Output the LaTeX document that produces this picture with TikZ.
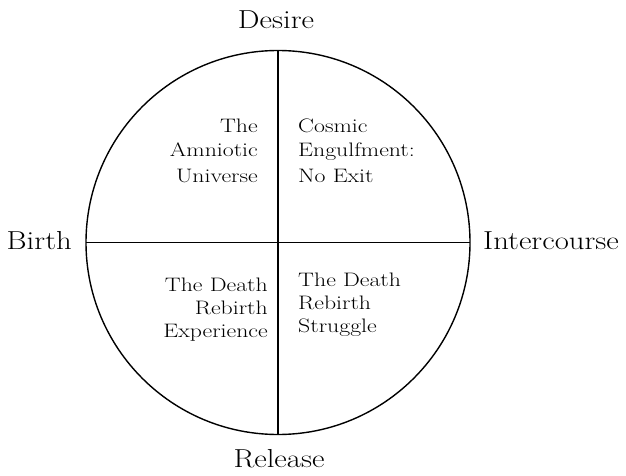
\documentclass[tikz,border=0pt]{standalone}
\usepackage{fontspec}
\setmainfont{Latin Modern Roman}[FakeStretch=1.18]
\newfontfamily\quadfont{Latin Modern Roman}[FakeStretch=1.22]
\begin{document}
\begin{tikzpicture}[x=1pt,y=-1pt,
  lbl/.style={font=\fontsize{26}{30}\selectfont, inner sep=0pt},
  qtxt/.style={font=\quadfont\fontsize{19.5}{23}\selectfont, inner sep=0pt},
  edge/.style={line width=1.4pt}]
\useasboundingbox (0,0) rectangle (626,476);
\coordinate (c) at (278,242.5);
\draw[edge] (c) circle[radius=192];
\coordinate (t) at (278,50.5);
\coordinate (b) at (278,434.5);
\coordinate (l) at (86,242.5);
\coordinate (r) at (470,242.5);
\draw[edge] (t) -- (b);
\draw[edge] (l) -- (r);
\node[lbl, anchor=base] (desire) at (276,29) {Desire};
\node[lbl, anchor=base] (release) at (279,467) {Release};
\node[lbl, anchor=base east] (birth) at (72,249) {Birth};
\node[lbl, anchor=base west] (inter) at (483,249) {Intercourse};
% top left
\node[qtxt, anchor=base east] (q1a) at (258,132) {The};
\node[qtxt, anchor=base east] (q1b) at (258,157) {Amniotic};
\node[qtxt, anchor=base east] (q1c) at (258,182) {Universe};
% top right
\node[qtxt, anchor=base west] (q2a) at (298,132) {Cosmic};
\node[qtxt, anchor=base west] (q2b) at (298,157) {Engulfment:};
\node[qtxt, anchor=base west] (q2c) at (298,182) {No Exit};
% bottom left
\node[qtxt, anchor=base east] (q3a) at (268,291) {The Death};
\node[qtxt, anchor=base east] (q3b) at (268,314) {Rebirth};
\node[qtxt, anchor=base east] (q3c) at (268,337) {Experience};
% bottom right
\node[qtxt, anchor=base west] (q4a) at (298,286) {The Death};
\node[qtxt, anchor=base west] (q4b) at (298,309) {Rebirth};
\node[qtxt, anchor=base west] (q4c) at (298,332) {Struggle};
\end{tikzpicture}
\end{document}
